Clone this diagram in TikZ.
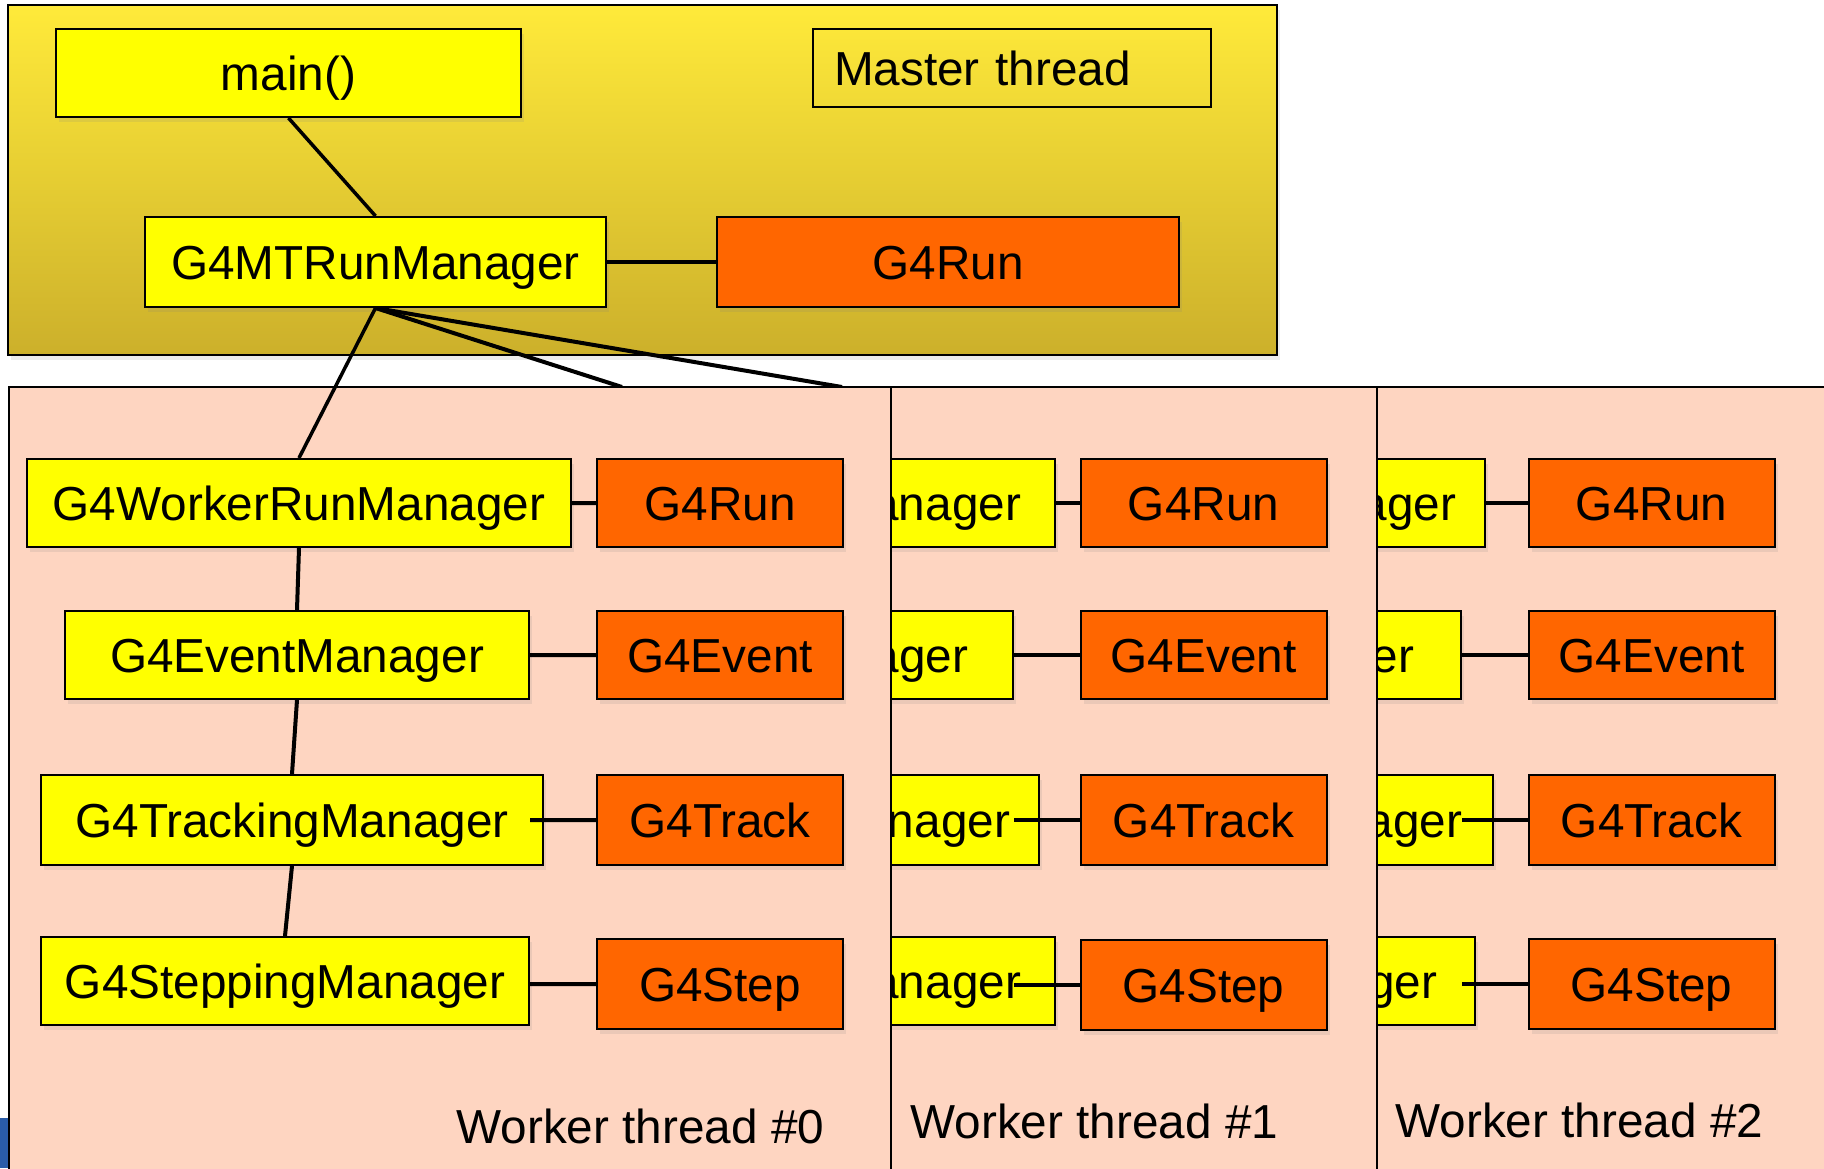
\documentclass[tikz,border=0pt]{standalone}
\usepackage{fontspec}
\setmainfont{Liberation Sans}
\usetikzlibrary{shadows}

\definecolor{masterTop}{HTML}{FFEA3A}
\definecolor{masterBot}{HTML}{CCB02B}
\definecolor{mgrYellow}{HTML}{FFFF00}
\definecolor{objOrange}{HTML}{FF6600}
\definecolor{workerBg}{HTML}{FED5C1}
\definecolor{logoBlue}{HTML}{2A5CA8}

\tikzset{
    mgr/.style={draw, line width=2pt, fill=mgrYellow, minimum height=88pt,
        inner sep=0pt, text height=34pt, text depth=0pt,
        drop shadow={shadow xshift=3pt, shadow yshift=-5pt, opacity=0.15}},
    tail/.style={mgr, align=right},
    obj/.style={mgr, fill=objOrange, minimum width=246pt},
    panel/.style={draw, line width=2pt, fill=workerBg},
    link/.style={line width=4pt},
}

\begin{document}
\begin{tikzpicture}[x=1pt, y=-1pt, font=\fontsize{47.7}{57}\selectfont]
    \useasboundingbox (0,0) rectangle (1824,1168);

    % master thread
    \draw[line width=2.5pt, top color=masterTop, bottom color=masterBot,
        drop shadow={shadow xshift=3pt, shadow yshift=-5pt, opacity=0.15}]
        (8,5) rectangle (1277,355);
    \node[mgr, minimum width=465pt] at (288.5,73)(main){main()};
    \node[draw, line width=2pt, minimum height=78pt, text width=356pt,
        inner xsep=21pt, inner ysep=0pt, text height=34pt, text depth=0pt,
        align=left] at (1012,68)(mthr){Master thread};
    \node[mgr, minimum width=461pt, minimum height=90pt] at (375.5,262)(mtrm){G4MTRunManager};
    \node[obj, minimum width=462pt, minimum height=90pt] at (948,262)(mrun){G4Run};

    \draw[link, line width=3.5pt] (main.south) -- (mtrm.north);
    \draw[link] (mtrm) -- (mrun);

    % links to the hidden workers
    \coordinate (w1in) at (622,387);
    \coordinate (w2in) at (842,387);
    \draw[link] (mtrm.south) -- (w1in);
    \draw[link] (mtrm.south) -- (w2in);

    \fill[logoBlue] (0,1118) rectangle (8,1168);

    % worker thread #2
    \draw[panel] (940,387) rectangle (1840,1180);
    \node[tail, text width=493pt, inner xsep=29pt] at (1209.5,503)(wrm2){nager};
    \node[tail, text width=374pt, inner xsep=47pt] at (1227,655)(em2){ager};
    \node[tail, text width=435pt, inner xsep=31pt, minimum height=90pt] at (1244.5,820)(tm2){nager};
    \node[tail, text width=440pt, inner xsep=38pt] at (1217,981)(sm2){nager};
    \node[obj] at (1651.5,503)(run2){G4Run};
    \node[obj] at (1651.5,655)(evt2){G4Event};
    \node[obj, minimum height=90pt] at (1651.5,820)(trk2){G4Track};
    \node[obj, minimum height=90pt] at (1651.5,984)(stp2){G4Step};
    \draw[link]
        (wrm2) -- (run2)
        (em2) -- (evt2)
        (em2.east |- tm2.east) -- (trk2.west)
        (em2.east |- stp2.west) -- (stp2.west);
    \node[anchor=base west] at (1392,1137)(wt2){Worker thread \#2};

    % worker thread #1
    \draw[panel] (492,387) rectangle (1377,1180);
    \node[tail, text width=493pt, inner xsep=34pt] at (774.5,503)(wrm1){Manager};
    \node[tail, text width=374pt, inner xsep=45pt] at (781,655)(em1){nager};
    \node[tail, text width=435pt, inner xsep=29pt, minimum height=90pt] at (792.5,820)(tm1){Manager};
    \node[tail, text width=440pt, inner xsep=34pt] at (801,981)(sm1){Manager};
    \node[obj] at (1203.5,503)(run1){G4Run};
    \node[obj] at (1203.5,655)(evt1){G4Event};
    \node[obj, minimum height=90pt] at (1203.5,820)(trk1){G4Track};
    \node[obj, minimum height=90pt] at (1203.5,985)(stp1){G4Step};
    \draw[link]
        (wrm1) -- (run1)
        (em1) -- (evt1)
        (em1.east |- tm1.east) -- (trk1.west)
        (em1.east |- stp1.west) -- (stp1.west);
    \node[anchor=base west] at (907,1138)(wt1){Worker thread \#1};

    % worker thread #0
    \draw[panel] (9,387) rectangle (891,1180);
    \node[mgr, minimum width=544pt] at (299,503)(wrm0){G4WorkerRunManager};
    \node[mgr, minimum width=464pt] at (297,655)(em0){G4EventManager};
    \node[mgr, minimum width=502pt, minimum height=90pt] at (292,820)(tm0){G4TrackingManager};
    \node[mgr, minimum width=488pt] at (285,981)(sm0){G4SteppingManager};
    \node[obj] at (720,503)(run0){G4Run};
    \node[obj] at (720,655)(evt0){G4Event};
    \node[obj, minimum height=90pt] at (720,820)(trk0){G4Track};
    \node[obj, minimum height=90pt] at (720,984)(stp0){G4Step};
    \draw[link]
        (wrm0.south) -- (em0.north)
        (em0.south) -- (tm0.north)
        (tm0.south) -- (sm0.north)
        (wrm0) -- (run0)
        (em0) -- (evt0)
        (em0.east |- tm0.east) -- (trk0.west)
        (em0.east |- stp0.west) -- (stp0.west);
    \node[anchor=base west] at (453,1143)(wt0){Worker thread \#0};

    \draw[link, line width=3.5pt] (mtrm.south) -- (wrm0.north);
\end{tikzpicture}
\end{document}
